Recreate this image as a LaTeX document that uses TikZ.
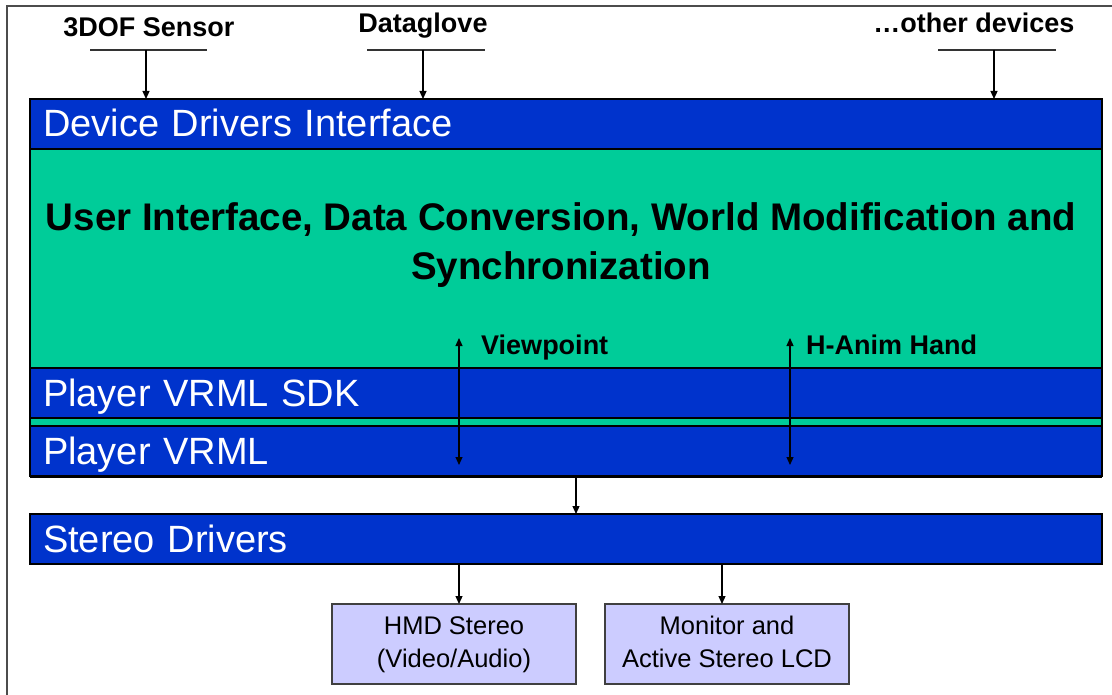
\documentclass[tikz,border=0pt]{standalone}
\usepackage{fontspec}
\setmainfont{Liberation Sans}
\usetikzlibrary{positioning,arrows.meta}
\definecolor{barblue}{HTML}{0033CC}
\definecolor{bargreen}{HTML}{00CC99}
\definecolor{boxlilac}{HTML}{CCCCFF}
\begin{document}
\begin{tikzpicture}[x=1pt,y=-1pt,
	bar/.style = {draw=black, line width=1.5pt, fill=barblue, text=white, outer sep=0pt,
		minimum width=1072pt, minimum height=50pt, text width=1046pt, inner xsep=13pt, inner ysep=0pt,
		align=left, font=\fontsize{38}{44}\selectfont, text height=32pt, text depth=6pt},
	core/.style = {draw=black, line width=1.5pt, fill=bargreen, outer sep=0pt, inner sep=0pt,
		minimum width=1072pt},
	dev/.style = {draw=black!75, line width=1.2pt, fill=boxlilac, outer sep=0pt, inner sep=0pt,
		minimum width=244pt, minimum height=80pt, align=center, font=\fontsize{25.5}{33}\selectfont},
	lbl/.style = {inner sep=0pt, font=\bfseries\fontsize{27}{32}\selectfont},
	arr/.style = {line width=1.2pt, -{Triangle[width=7pt,length=8pt]}},
	arr2/.style = {line width=1.2pt, {Triangle[width=7pt,length=8pt]}-{Triangle[width=7pt,length=8pt]}}]
	\useasboundingbox (0,0) rectangle (1112,695);
	\draw[line width=2pt, black!70] (7,695) -- (7,6) -- (1112,6);
	
	\node[bar, anchor=north west] (1) at (30,99) {Device Drivers Interface};
	\node[core, minimum height=219pt, below=0pt of 1] (2) {};
	\node[bar, below=0pt of 2] (3) {Player VRML SDK};
	\node[core, minimum height=8pt, below=0pt of 3] (4) {};
	\node[bar, below=0pt of 4] (5) {Player VRML};
	\node[bar, below=38pt of 5] (6) {Stereo Drivers};
	\draw[line width=3pt] (5.south west) -- (5.south east);
	
	\node[inner sep=0pt, align=center, font=\bfseries\fontsize{38.5}{49}\selectfont] (7) at (561,245) {User Interface, Data Conversion, World Modification and\\Synchronization};
	
	\node[dev] (8) at (454,644) {\strut HMD Stereo\\\strut(Video/Audio)};
	\node[dev, right=29pt of 8] (9) {\strut Monitor and\\\strut Active Stereo LCD};
	
	\node[lbl, anchor=base] (10) at (149,37) {3DOF Sensor};
	\node[lbl, anchor=base] (11) at (423,33) {Dataglove};
	\node[lbl, anchor=base] (12) at (974,33) {…other devices};
	
	\coordinate (13) at (146,50);
	\coordinate (14) at (423,50);
	\coordinate (15) at (994,50);
	\draw[line width=1.2pt, black!80] (90,50) -- (207,50);
	\draw[line width=1.2pt, black!80] (367,50) -- (485,50);
	\draw[line width=1.2pt, black!80] (938,50) -- (1056,50);
	\draw[arr] (13) -- (13 |- 1.north);
	\draw[arr] (14) -- (14 |- 1.north);
	\draw[arr] (15) -- (15 |- 1.north);
	
	\coordinate (16) at (459,338);
	\coordinate (17) at (459,465);
	\coordinate (18) at (790,338);
	\coordinate (19) at (790,465);
	\draw[arr2] (16) -- (17);
	\draw[arr2] (18) -- (19);
	\node[lbl, anchor=base west] (20) at (481,355) {Viewpoint};
	\node[lbl, anchor=base west] (21) at (806,355) {H-Anim Hand};
	
	\draw[arr] (5.south -| 8.north east) -- (6.north -| 8.north east);
	\draw[arr] (6.south -| 459,0) -- (8.north -| 459,0);
	\draw[arr] (6.south -| 722,0) -- (9.north -| 722,0);
	
\end{tikzpicture}
\end{document}
